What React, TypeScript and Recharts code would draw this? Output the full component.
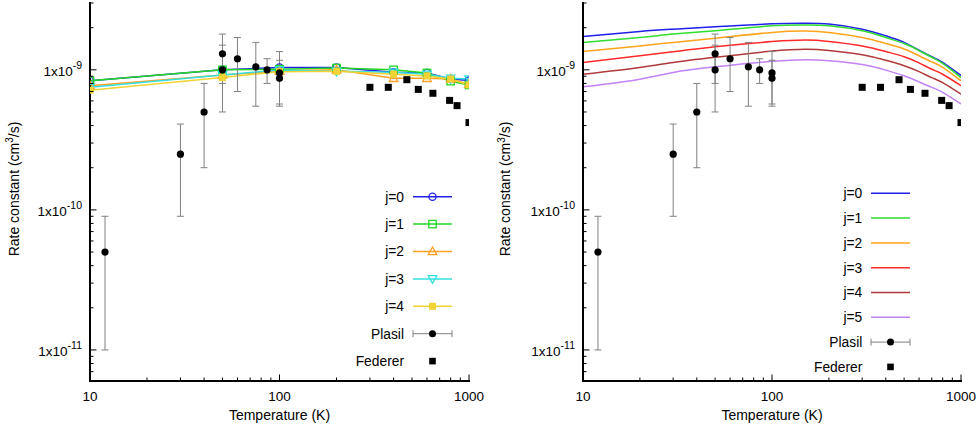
import React from 'react';
import { ComposedChart, Line, Scatter, XAxis, YAxis, ErrorBar, Customized } from 'recharts';

const FONT = '"Liberation Sans", Arial, Helvetica, sans-serif';

// ---- left panel: model rates with markers (cm^3/s) ----
const markerTemps = [10, 50, 100, 200, 400, 600, 800, 1000];
const leftJ0 = [8.35e-10, 1.0e-9, 1.04e-9, 1.04e-9, 9.6e-10, 9.5e-10, 8.6e-10, 8.4e-10];
const leftJ1 = [8.35e-10, 1.0e-9, 1.01e-9, 1.03e-9, 1.0e-9, 9.5e-10, 8.3e-10, 7.8e-10];
const leftJ2 = [7.7e-10, 9.2e-10, 9.8e-10, 1.0e-9, 8.7e-10, 8.7e-10, 8.6e-10, 7.9e-10];
const leftJ3 = [7.5e-10, 9.2e-10, 9.95e-10, 9.75e-10, 9.6e-10, 9.3e-10, 8.7e-10, 8.6e-10];
const leftJ4 = [7.15e-10, 8.8e-10, 9.7e-10, 9.75e-10, 9.3e-10, 9.05e-10, 8.6e-10, 7.8e-10];

// ---- right panel: smooth model curves ----
const curveTemps = [10, 20, 30, 50, 100, 150, 200, 300, 400, 500, 600, 700, 800, 1000];
const rightJ0 = [1.73e-9, 1.88e-9, 1.95e-9, 2.03e-9, 2.13e-9, 2.15e-9, 2.12e-9, 1.95e-9, 1.75e-9, 1.57e-9, 1.38e-9, 1.24e-9, 1.13e-9, 9.1e-10];
const rightJ1 = [1.57e-9, 1.7e-9, 1.8e-9, 1.9e-9, 2.06e-9, 2.09e-9, 2.06e-9, 1.9e-9, 1.7e-9, 1.54e-9, 1.37e-9, 1.23e-9, 1.11e-9, 8.8e-10];
const rightJ2 = [1.35e-9, 1.48e-9, 1.57e-9, 1.68e-9, 1.85e-9, 1.89e-9, 1.85e-9, 1.7e-9, 1.54e-9, 1.41e-9, 1.26e-9, 1.14e-9, 1.04e-9, 8.35e-10];
const rightJ3 = [1.13e-9, 1.26e-9, 1.345e-9, 1.46e-9, 1.59e-9, 1.63e-9, 1.595e-9, 1.48e-9, 1.35e-9, 1.24e-9, 1.12e-9, 1.01e-9, 9.3e-10, 7.7e-10];
const rightJ4 = [9.3e-10, 1.04e-9, 1.13e-9, 1.23e-9, 1.36e-9, 1.4e-9, 1.375e-9, 1.28e-9, 1.17e-9, 1.07e-9, 9.7e-10, 8.8e-10, 8.1e-10, 6.7e-10];
const rightJ5 = [7.56e-10, 8.58e-10, 9.58e-10, 1.05e-9, 1.15e-9, 1.18e-9, 1.16e-9, 1.09e-9, 9.95e-10, 9.06e-10, 8.2e-10, 7.5e-10, 6.9e-10, 5.7e-10];

// ---- measurements ----
const plasilT = [12, 30, 40, 50, 50, 60, 75, 86, 100, 100];
const plasilK = [5e-11, 2.5e-10, 5e-10, 1.3e-9, 1.0e-9, 1.2e-9, 1.05e-9, 1.0e-9, 9.5e-10, 8.7e-10];
const plasilLow = [1e-11, 9e-11, 2e-10, 8e-10, 5e-10, 7e-10, 5.5e-10, 8e-10, 5.5e-10, 5.7e-10];
const plasilHigh = [9e-11, 4.1e-10, 8e-10, 1.8e-9, 1.5e-9, 1.7e-9, 1.57e-9, 1.2e-9, 1.35e-9, 1.17e-9];

const federerT = [300, 375, 470, 540, 645, 790, 865, 1000];
const federerK = [7.5e-10, 7.5e-10, 8.5e-10, 7.25e-10, 6.8e-10, 6.05e-10, 5.55e-10, 4.2e-10];

// ---- axes ----
const xTicks = [10, 20, 30, 40, 50, 60, 70, 80, 90, 100, 200, 300, 400, 500, 600, 700, 800, 900, 1000];
const yTicks = [
  6e-12, 7e-12, 8e-12, 9e-12,
  1e-11, 2e-11, 3e-11, 4e-11, 5e-11, 6e-11, 7e-11, 8e-11, 9e-11,
  1e-10, 2e-10, 3e-10, 4e-10, 5e-10, 6e-10, 7e-10, 8e-10, 9e-10,
  1e-9, 2e-9, 3e-9,
];

const rows = (temps: number[], vals: number[]) => temps.map((T, i) => ({ T, k: vals[i] }));

const plasilRows = plasilT.map((T, i) => ({
  T,
  k: plasilK[i],
  err: [plasilK[i] - plasilLow[i], plasilHigh[i] - plasilK[i]],
}));
const federerRows = rows(federerT, federerK);

const leftSeries = [
  { name: 'j=0', values: leftJ0, color: '#2323e8', marker: 'circle' },
  { name: 'j=1', values: leftJ1, color: '#22d822', marker: 'square' },
  { name: 'j=2', values: leftJ2, color: '#ffa024', marker: 'triangle' },
  { name: 'j=3', values: leftJ3, color: '#33e0e0', marker: 'triangleDown' },
  { name: 'j=4', values: leftJ4, color: '#f2d335', marker: 'filledSquare' },
];

const rightSeries = [
  { name: 'j=0', values: rightJ0, color: '#2020e8' },
  { name: 'j=1', values: rightJ1, color: '#30dd30' },
  { name: 'j=2', values: rightJ2, color: '#ffa31a' },
  { name: 'j=3', values: rightJ3, color: '#ff2a2a' },
  { name: 'j=4', values: rightJ4, color: '#b03a3a' },
  { name: 'j=5', values: rightJ5, color: '#c183f5' },
];

const isDecade = (v: number) => {
  const l = Math.log10(v);
  return Math.abs(l - Math.round(l)) < 1e-6;
};

function Marker({ kind, cx, cy, color }: any) {
  const sw = 1.3;
  switch (kind) {
    case 'circle':
      return <circle cx={cx} cy={cy} r={3.6} fill="none" stroke={color} strokeWidth={sw} />;
    case 'square':
      return <rect x={cx - 3.7} y={cy - 3.7} width={7.4} height={7.4} fill="none" stroke={color} strokeWidth={sw} />;
    case 'triangle':
      return <path d={`M${cx},${cy - 4.5}L${cx + 4.3},${cy + 3.2}L${cx - 4.3},${cy + 3.2}Z`} fill="none" stroke={color} strokeWidth={sw} />;
    case 'triangleDown':
      return <path d={`M${cx},${cy + 4.5}L${cx + 4.3},${cy - 3.2}L${cx - 4.3},${cy - 3.2}Z`} fill="none" stroke={color} strokeWidth={sw} />;
    case 'filledSquare':
      return <rect x={cx - 3.5} y={cy - 3.5} width={7} height={7} fill={color} />;
    default:
      return null;
  }
}

function XTick({ x, y, payload, side }: any) {
  const major = isDecade(payload.value);
  const len = major ? 6.5 : 3.5;
  const dir = side === 'bottom' ? -1 : 1;
  return (
    <g>
      <line x1={x} y1={y} x2={x} y2={y + dir * len} stroke="#000" strokeWidth={1} />
      {major && side === 'bottom' && (
        <text x={x} y={y + 20} textAnchor="middle" fontSize={13.5} fontFamily={FONT} fill="#000">
          {payload.value}
        </text>
      )}
    </g>
  );
}

function YTick({ x, y, payload, side }: any) {
  const v = payload.value;
  const major = isDecade(v);
  const len = major ? 6.5 : 3.5;
  const dir = side === 'left' ? 1 : -1;
  return (
    <g>
      <line x1={x} y1={y} x2={x + dir * len} y2={y} stroke="#000" strokeWidth={1} />
      {major && side === 'left' && (
        <text x={x - 8} y={y + 6} textAnchor="end" fontSize={13.5} fontFamily={FONT} fill="#000">
          1x10
          <tspan dy={-7} fontSize={10.5}>{Math.round(Math.log10(v))}</tspan>
        </text>
      )}
    </g>
  );
}

function Decor({ yTitleX, xTitleX, entries, lg }: any) {
  const mid = (lg.x0 + lg.x1) / 2;
  return (
    <g fontFamily={FONT} fill="#000">
      <text transform={`translate(${yTitleX},189) rotate(-90)`} textAnchor="middle" fontSize={14}>
        Rate constant (cm<tspan dy={-5.5} fontSize={10}>3</tspan>
        <tspan dy={5.5}>/s)</tspan>
      </text>
      <text x={xTitleX} y={419.5} textAnchor="middle" fontSize={14}>
        Temperature (K)
      </text>
      {entries.map((e: any, i: number) => {
        const cy = lg.y0 + i * lg.step;
        return (
          <g key={e.name}>
            <text x={lg.textRight} y={cy + 4.9} textAnchor="end" fontSize={13.8}>
              {e.name}
            </text>
            {e.type === 'line' && (
              <line x1={lg.x0} y1={cy} x2={lg.x1} y2={cy} stroke={e.color} strokeWidth={1.5} />
            )}
            {e.type === 'line' && e.marker && <Marker kind={e.marker} cx={mid} cy={cy} color={e.color} />}
            {e.type === 'plasil' && (
              <g stroke="#808080" strokeWidth={1}>
                <line x1={lg.x0} y1={cy} x2={lg.x1} y2={cy} />
                <line x1={lg.x0} y1={cy - 3.5} x2={lg.x0} y2={cy + 3.5} />
                <line x1={lg.x1} y1={cy - 3.5} x2={lg.x1} y2={cy + 3.5} />
              </g>
            )}
            {e.type === 'plasil' && <circle cx={mid} cy={cy} r={3.5} fill="#000" />}
            {e.type === 'federer' && <rect x={mid - 3.3} y={cy - 3.3} width={6.6} height={6.6} fill="#000" />}
          </g>
        );
      })}
    </g>
  );
}

const frame = { stroke: '#000', strokeWidth: 2, strokeLinecap: 'square' as const };

function Panel({ series, smooth, margin, yTitleX, xTitleX, lg }: any) {
  const entries = [
    ...series.map((s: any) => ({ name: s.name, type: 'line', color: s.color, marker: s.marker })),
    { name: 'Plasil', type: 'plasil' },
    { name: 'Federer', type: 'federer' },
  ];
  const xCommon = {
    type: 'number' as const,
    dataKey: 'T',
    scale: 'log' as const,
    domain: [10, 1000],
    allowDataOverflow: true,
    ticks: xTicks,
    interval: 0 as const,
    tickSize: 0,
    tickMargin: 0,
    tickLine: false,
    axisLine: frame,
  };
  const yCommon = {
    type: 'number' as const,
    scale: 'log' as const,
    domain: [6e-12, 3e-9],
    allowDataOverflow: true,
    ticks: yTicks,
    interval: 0 as const,
    tickSize: 0,
    tickMargin: 0,
    tickLine: false,
    axisLine: frame,
  };
  return (
    <ComposedChart width={490} height={426} margin={margin}>
      <XAxis {...xCommon} height={45} tick={<XTick side="bottom" />} />
      <XAxis {...xCommon} xAxisId="top" orientation="top" height={0} tick={<XTick side="top" />} />
      <YAxis {...yCommon} width={80} tick={<YTick side="left" />} />
      <YAxis {...yCommon} yAxisId="right" orientation="right" width={0} tick={<YTick side="right" />} />
      {series.map((s: any) => (
        <Line
          key={s.name}
          data={rows(smooth ? curveTemps : markerTemps, s.values)}
          dataKey="k"
          type={smooth ? 'natural' : 'linear'}
          stroke={s.color}
          strokeWidth={1.5}
          dot={
            smooth
              ? false
              : (p: any) => <Marker key={`${s.name}-${p.index}`} kind={s.marker} cx={p.cx} cy={p.cy} color={s.color} />
          }
          activeDot={false}
          isAnimationActive={false}
        />
      ))}
      <Scatter
        data={plasilRows}
        dataKey="k"
        isAnimationActive={false}
        shape={(p: any) => <circle cx={p.cx} cy={p.cy} r={3.6} fill="#000" />}
      >
        <ErrorBar dataKey="err" direction="y" width={3.5} stroke="#808080" strokeWidth={1} isAnimationActive={false} />
      </Scatter>
      <Scatter
        data={federerRows}
        dataKey="k"
        isAnimationActive={false}
        shape={(p: any) => <rect x={p.cx - 3.5} y={p.cy - 3.5} width={7} height={7} fill="#000" />}
      />
      <Customized component={<Decor yTitleX={yTitleX} xTitleX={xTitleX} entries={entries} lg={lg} />} />
    </ComposedChart>
  );
}

export default function App() {
  return (
    <div style={{ position: 'absolute', left: 0, top: 0, width: 980, height: 426, background: '#fff' }}>
      <div style={{ position: 'absolute', left: 0, top: 0 }}>
        <Panel
          series={leftSeries}
          smooth={false}
          margin={{ top: 3, right: 21, bottom: 0, left: 10 }}
          yTitleX={18.5}
          xTitleX={279.5}
          lg={{ textRight: 404, x0: 413, x1: 452, y0: 196.7, step: 27.4 }}
        />
      </div>
      <div style={{ position: 'absolute', left: 490, top: 0 }}>
        <Panel
          series={rightSeries}
          smooth={true}
          margin={{ top: 3, right: 19, bottom: 0, left: 13 }}
          yTitleX={20.3}
          xTitleX={282}
          lg={{ textRight: 372.3, x0: 381, x1: 420, y0: 193.3, step: 24.8 }}
        />
      </div>
    </div>
  );
}
